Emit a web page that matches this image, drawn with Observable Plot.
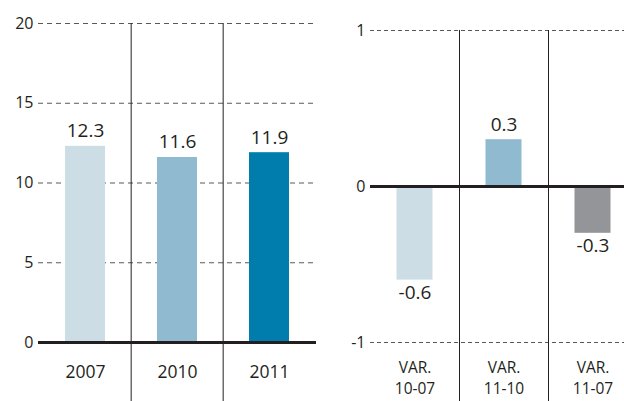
<!DOCTYPE html>
<html>
<head>
<meta charset="utf-8">
<script src="https://cdn.jsdelivr.net/npm/d3@7"></script>
<script src="https://cdn.jsdelivr.net/npm/@observablehq/plot@0.6"></script>
<style>
  html, body { margin: 0; padding: 0; background: #fff; }
  #wrap { display: flex; width: 624px; height: 401px; overflow: hidden; }
  #wrap svg { overflow: hidden; display: block; }
</style>
</head>
<body>
<div id="wrap"></div>
<script>
// Left panel data
const years = ["2007", "2010", "2011"];
const yearValues = [12.3, 11.6, 11.9];
const yearColors = ["#cddde5", "#8fbad0", "#007dad"];
const leftTicks = [0, 5, 10, 15, 20];

// Right panel data
const varPrefix = "VAR.";
const varCodes = ["10-07", "11-10", "11-07"];
const varValues = [-0.6, 0.3, -0.3];
const varColors = ["#cddde5", "#8fbad0", "#939598"];
const rightTicks = [-1, 0, 1];

const FONT = "'Open Sans', sans-serif";
const INK = "#231f20";

const leftData = years.map((k, i) => ({k, v: yearValues[i], c: yearColors[i]}));
const rightData = varCodes.map((k, i) => ({k, v: varValues[i], c: varColors[i]}));

// Left chart
const lW = 320, lML = 38, lMR = 4;
const lBand = (lW - lML - lMR) / years.length;
const left = Plot.plot({
  width: lW, height: 401,
  marginLeft: lML, marginRight: lMR, marginTop: 23, marginBottom: 59,
  style: {fontFamily: FONT, color: INK, background: "#fff", overflow: "hidden"},
  x: {type: "band", domain: years, padding: 0, axis: null},
  y: {domain: [0, 20], axis: null},
  marks: [
    Plot.ruleY(leftTicks.filter(d => d !== 0), {stroke: "#58595b", strokeWidth: 1, strokeDasharray: "5,4"}),
    Plot.text(leftTicks, {y: d => d, text: d => String(d), frameAnchor: "left", textAnchor: "end", dx: -5, fontSize: 16, fill: INK}),
    Plot.ruleX(years.slice(1), {x: d => d, y1: 20, y2: -4, dx: -lBand / 2, stroke: INK, strokeWidth: 1}),
    Plot.barY(leftData, {x: "k", y: "v", fill: "c", insetLeft: 26, insetRight: 26}),
    Plot.text(leftData, {x: "k", y: "v", text: d => d.v.toFixed(1), lineAnchor: "bottom", dy: -9, fontSize: 19, fill: INK}),
    Plot.ruleY([0], {stroke: INK, strokeWidth: 3}),
    Plot.text(leftData, {x: "k", y: 0, text: "k", lineAnchor: "middle", dy: 30, fontSize: 17.5, fill: INK})
  ]
});

// Right chart
const rW = 304, rML = 50;
const rBand = 89;
const rRange = [rML, rML + rBand * 3];
const right = Plot.plot({
  width: rW, height: 401,
  marginLeft: rML, marginRight: 0, marginTop: 30, marginBottom: 59,
  style: {fontFamily: FONT, color: INK, background: "#fff", overflow: "hidden"},
  x: {type: "band", domain: varCodes, padding: 0, range: rRange, axis: null},
  y: {domain: [-1, 1], axis: null},
  marks: [
    Plot.ruleY(rightTicks.filter(d => d !== 0), {stroke: "#58595b", strokeWidth: 1, strokeDasharray: "4,3"}),
    Plot.text(rightTicks, {y: d => d, text: d => String(d), frameAnchor: "left", textAnchor: "end", dx: -5, fontSize: 16, fill: INK}),
    Plot.ruleX(varCodes.slice(1), {x: d => d, y1: 1, y2: -1.5, dx: -rBand / 2, stroke: INK, strokeWidth: 1}),
    Plot.barY(rightData, {x: "k", y: "v", fill: "c", insetLeft: 26.5, insetRight: 26.5}),
    Plot.text(rightData.filter(d => d.v >= 0), {x: "k", y: "v", text: d => d.v.toFixed(1), lineAnchor: "bottom", dy: -9, fontSize: 19, fill: INK}),
    Plot.text(rightData.filter(d => d.v < 0), {x: "k", y: "v", text: d => "-" + Math.abs(d.v).toFixed(1), lineAnchor: "top", dy: 5, fontSize: 19, fill: INK}),
    Plot.ruleY([0], {stroke: INK, strokeWidth: 3}),
    Plot.text(rightData, {x: "k", y: -1, text: () => varPrefix, lineAnchor: "bottom", dy: 30.5, fontSize: 15.5, fill: INK}),
    Plot.text(rightData, {x: "k", y: -1, text: "k", lineAnchor: "bottom", dy: 51, fontSize: 15.5, fill: INK})
  ]
});

document.getElementById("wrap").append(left, right);
</script>
</body>
</html>
